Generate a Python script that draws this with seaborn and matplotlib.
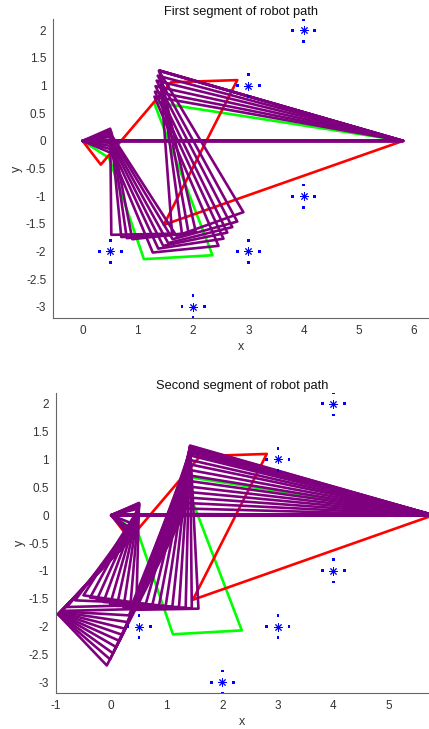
import numpy as np
import pandas as pd
import matplotlib
matplotlib.use("Agg")
import matplotlib.pyplot as plt
import seaborn as sns

sns.set_style("white")
plt.rcParams['font.family'] = ['Liberation Sans', 'DejaVu Sans']
plt.rcParams['axes.unicode_minus'] = False

# fixed end points of the chain
base_x, base_y = 0.0, 0.0
end_x, end_y = 5.8, 0.0

# start (green) and goal (red) configurations: joints P1..P4
green_x = [0.48, 1.11, 2.35, 1.29]
green_y = [-0.31, -2.14, -2.07, 0.70]
red_x = [0.33, 1.60, 2.80, 1.47]
red_y = [-0.43, 1.06, 1.10, -1.52]

# obstacles and their sample dots
obst_x = [0.5, 2, 3, 3, 4, 4]
obst_y = [-2, -3, -2, 1, 2, -1]
dot_dx = [0.2, -0.2, 0.0, 0.0]
dot_dy = [0.0, 0.0, 0.2, -0.2]

# first segment: intermediate configurations (joints P1..P4)
top_p1x = [0.52, 0.54, 0.55, 0.55, 0.55, 0.54, 0.53, 0.52, 0.51, 0.50]
top_p1y = [-0.22, -0.16, -0.10, -0.04, 0.02, 0.08, 0.12, 0.16, 0.19, 0.22]
top_p2x = [1.27, 1.37, 1.46, 1.55, 1.63, 1.70, 0.90, 0.80, 0.70, 0.52]
top_p2y = [-2.02, -1.95, -1.90, -1.85, -1.78, -1.72, -1.78, -1.76, -1.74, -1.70]
top_p3x = [2.46, 2.55, 2.62, 2.71, 2.80, 2.91, 2.05, 1.92, 1.80, 1.62]
top_p3y = [-1.90, -1.77, -1.66, -1.56, -1.46, -1.29, -1.65, -1.68, -1.69, -1.68]
top_p4x = [1.30, 1.31, 1.32, 1.34, 1.36, 1.38, 1.39, 1.40, 1.40, 1.40]
top_p4y = [0.80, 0.89, 0.99, 1.09, 1.18, 1.27, 1.27, 1.27, 1.27, 1.27]

# second segment
bot_p1x = [0.50, 0.50, 0.50, 0.50, 0.50, 0.50, 0.50, 0.50, 0.50, 0.48, 0.45,
           0.43, 0.42, 0.41, 0.40, 0.40, 0.39, 0.38, 0.38, 0.37, 0.36]
bot_p1y = [0.22, 0.21, 0.20, 0.19, 0.18, 0.17, 0.16, 0.14, 0.12, 0.00, -0.18,
           -0.30, -0.32, -0.34, -0.35, -0.37, -0.38, -0.39, -0.40, -0.41, -0.42]
bot_p2x = [0.45, 0.34, 0.22, 0.10, -0.02, -0.14, -0.26, -0.38, -0.50, -0.65, -0.80,
           -0.89, -0.90, -0.91, -0.92, -0.93, -0.94, -0.95, -0.95, -0.96, -0.96]
bot_p2y = [-1.70, -1.68, -1.66, -1.63, -1.60, -1.56, -1.52, -1.48, -1.44, -1.53, -1.65,
           -1.72, -1.73, -1.74, -1.75, -1.76, -1.77, -1.77, -1.78, -1.78, -1.78]
bot_p3x = [1.57, 1.45, 1.34, 1.22, 1.10, 0.98, 0.86, 0.74, 0.62, 0.50, 0.40,
           0.34, 0.32, 0.29, 0.25, 0.20, 0.15, 0.09, 0.03, -0.02, -0.08]
bot_p3y = [-1.68, -1.67, -1.66, -1.65, -1.64, -1.63, -1.62, -1.61, -1.60, -1.58, -1.62,
           -1.69, -1.80, -1.92, -2.04, -2.15, -2.26, -2.37, -2.48, -2.59, -2.70]
bot_p4x = [1.42, 1.42, 1.41, 1.41, 1.41, 1.41, 1.40, 1.40, 1.40, 1.39, 1.38,
           1.38, 1.37, 1.37, 1.36, 1.35, 1.35, 1.34, 1.33, 1.32, 1.31]
bot_p4y = [1.25, 1.24, 1.23, 1.21, 1.20, 1.18, 1.16, 1.14, 1.12, 1.08, 1.00,
           0.92, 0.82, 0.72, 0.62, 0.52, 0.42, 0.32, 0.22, 0.12, 0.02]

PURPLE = '#7f007f'
GREEN = '#00ff00'
RED = '#ff0000'
BLUE = '#0000ff'


def chain_frame(p1x, p1y, p2x, p2y, p3x, p3y, p4x, p4y, closed):
    rows = []
    for k in range(len(p1x)):
        xs = [base_x, p1x[k], p2x[k], p3x[k], p4x[k], end_x]
        ys = [base_y, p1y[k], p2y[k], p3y[k], p4y[k], end_y]
        if closed:
            xs = xs + [base_x]
            ys = ys + [base_y]
        for i, (x, y) in enumerate(zip(xs, ys)):
            rows.append({'cfg': k, 'order': i, 'x': x, 'y': y})
    return pd.DataFrame(rows)


def single(px, py):
    return chain_frame([px[0]], [py[0]], [px[1]], [py[1]], [px[2]], [py[2]],
                       [px[3]], [py[3]], False)


def draw(ax, p1x, p1y, p2x, p2y, p3x, p3y, p4x, p4y, title, xlim):
    sns.lineplot(data=single(green_x, green_y), x='x', y='y', units='cfg',
                 estimator=None, sort=False, color=GREEN, lw=1.9, ax=ax)
    sns.lineplot(data=single(red_x, red_y), x='x', y='y', units='cfg',
                 estimator=None, sort=False, color=RED, lw=1.9, ax=ax)
    df = chain_frame(p1x, p1y, p2x, p2y, p3x, p3y, p4x, p4y, True)
    sns.lineplot(data=df, x='x', y='y', units='cfg', estimator=None,
                 sort=False, color=PURPLE, lw=1.9, ax=ax)
    dots = pd.DataFrame({
        'x': [ox + dx for ox in obst_x for dx in dot_dx],
        'y': [oy + dy for oy in obst_y for dy in dot_dy]})
    sns.scatterplot(data=dots, x='x', y='y', marker='s', s=4, color=BLUE,
                    edgecolor='none', ax=ax, zorder=5)
    stars = pd.DataFrame({'x': obst_x, 'y': obst_y})
    sns.scatterplot(data=stars, x='x', y='y', marker=(8, 2, 0), s=30,
                    color=BLUE, edgecolor=BLUE, linewidth=0.7, ax=ax, zorder=6)
    ax.set_xlim(*xlim)
    ax.set_ylim(-3.2, 2.2)
    ax.set_yticks(np.arange(-3, 2.01, 0.5))
    ax.set_yticklabels(['-3', '-2.5', '-2', '-1.5', '-1', '-0.5', '0',
                        '0.5', '1', '1.5', '2'])
    ax.set_title(title, fontsize=9.3, color='#111111', pad=3)
    ax.set_xlabel('x', fontsize=9, color='#333333', labelpad=3)
    ax.set_ylabel('y', fontsize=9, color='#333333', labelpad=2)
    ax.tick_params(direction='in', length=3, width=0.6, colors='#555555',
                   labelcolor='#333333', labelsize=8.5, pad=5)
    for s in ['top', 'right']:
        ax.spines[s].set_visible(False)
    for s in ['left', 'bottom']:
        ax.spines[s].set_color('#666666')
        ax.spines[s].set_linewidth(0.8)


fig = plt.figure(figsize=(4.29, 7.29), dpi=100)
ax1 = fig.add_axes([53.3 / 429, 1 - 317.7 / 729, (429 - 53.3) / 429, 298.4 / 729])
ax2 = fig.add_axes([55.7 / 429, 1 - 693.3 / 729, (429 - 55.7) / 429, 300.6 / 729])

draw(ax1, top_p1x, top_p1y, top_p2x, top_p2y, top_p3x, top_p3y, top_p4x, top_p4y,
     'First segment of robot path', (-0.53, 6.27))
ax1.set_xticks(range(0, 7))
draw(ax2, bot_p1x, bot_p1y, bot_p2x, bot_p2y, bot_p3x, bot_p3y, bot_p4x, bot_p4y,
     'Second segment of robot path', (-1.0, 5.72))
ax2.set_xticks(range(-1, 6))

fig.savefig('out.png', dpi=100)
